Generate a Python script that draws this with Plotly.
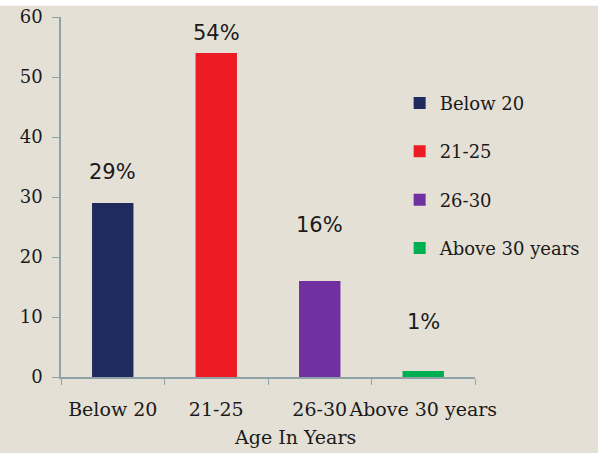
import plotly.graph_objects as go

categories = ["Below 20", "21-25", "26-30", "Above 30 years"]
values = [29, 54, 16, 1]
labels = ["29%", "54%", "16%", "1%"]
colors = ["#1f2a5e", "#ed1c24", "#7030a0", "#00b050"]
label_shift = [31, 20, 56, 49]  # pixel offsets of the value labels above bars

SERIF = "DejaVu Serif"
fig = go.Figure()
for i, c in enumerate(categories):
    fig.add_trace(go.Bar(
        x=[c], y=[values[i]], name=c, marker=dict(color=colors[i], line=dict(width=0)),
        legendgroup=c, hoverinfo="skip",
    ))
    fig.add_annotation(x=c, y=values[i], text=labels[i], showarrow=False,
                       yanchor="middle", yshift=label_shift[i],
                       font=dict(family="DejaVu Sans", size=21, color="#1a1a1a"))

fig.add_annotation(text="Age In Years", xref="paper", yref="paper", x=0.565, y=-0.167,
                   showarrow=False, yanchor="middle",
                   font=dict(family=SERIF, size=19, color="#1a1a1a"))

fig.add_shape(type="rect", xref="paper", yref="paper", x0=-0.2, x1=1.4, y0=1.031, y1=1.1,
              fillcolor="white", line=dict(width=0), layer="below")

fig.update_layout(
    width=598, height=453,
    margin=dict(l=61, r=116, t=17, b=76),
    paper_bgcolor="#e5e0d5", plot_bgcolor="rgba(0,0,0,0)",
    barmode="overlay", bargap=0.6,
    showlegend=True,
    legend=dict(x=0.818, xanchor="left", y=0.812, yanchor="top",
                font=dict(family=SERIF, size=18, color="#1a1a1a"),
                tracegroupgap=22, bgcolor="rgba(0,0,0,0)", itemclick=False),
    xaxis=dict(type="category", categoryorder="array", categoryarray=categories,
               showline=True, linecolor="#8fa3a6", linewidth=1.5,
               ticks="outside", ticklen=6, tickcolor="#8fa3a6", tickson="boundaries",
               ticklabelstandoff=14, tickangle=0, automargin=False,
               tickfont=dict(family=SERIF, size=19, color="#1a1a1a"),
               showgrid=False, zeroline=False),
    yaxis=dict(range=[0, 60], dtick=10, showline=True, linecolor="#8fa3a6", linewidth=1.5,
               ticks="outside", ticklen=7, tickcolor="#8fa3a6",
               ticklabelstandoff=6, automargin=False,
               tickfont=dict(family=SERIF, size=18, color="#1a1a1a"),
               showgrid=False, zeroline=False),
)

fig.write_html("out.html")
